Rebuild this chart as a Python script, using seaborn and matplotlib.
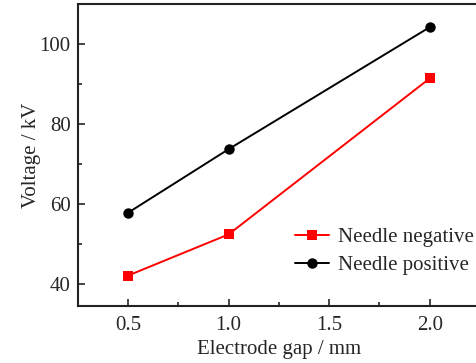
import matplotlib
matplotlib.use("Agg")
import matplotlib.pyplot as plt
from matplotlib.ticker import MultipleLocator
import seaborn as sns
import pandas as pd

gap = [0.5, 1.0, 2.0]
needle_negative = [42.1, 52.4, 91.4]
needle_positive = [57.8, 73.7, 104.2]

sns.set_theme(style="ticks")
plt.rcParams['font.family'] = ['Liberation Serif', 'DejaVu Serif']
plt.rcParams['mathtext.fontset'] = 'stix'

df = pd.concat([
    pd.DataFrame({"gap": gap, "v": needle_negative, "s": "Needle negative"}),
    pd.DataFrame({"gap": gap, "v": needle_positive, "s": "Needle positive"}),
])

fig = plt.figure(figsize=(4.76, 3.63), dpi=100)
ax = fig.add_axes([77.7/476, 57/363, (480-77.7)/476, 302/363])

sns.lineplot(data=df, x="gap", y="v", hue="s", style="s",
             markers={"Needle negative": "s", "Needle positive": "o"},
             dashes=False, palette={"Needle negative": "#ff0000", "Needle positive": "#000000"},
             markersize=7.5, linewidth=1.4, markeredgewidth=0, ax=ax)

ax.set_xlim(0.25, 2.25)
ax.set_ylim(34.5, 110)
ax.xaxis.set_major_locator(MultipleLocator(0.5))
ax.xaxis.set_minor_locator(MultipleLocator(0.25))
ax.yaxis.set_major_locator(MultipleLocator(20))
ax.yaxis.set_minor_locator(MultipleLocator(10))
ax.tick_params(which="both", direction="in", labelsize=15, width=1.2, top=False, right=False)
ax.tick_params(which="major", length=5)
ax.tick_params(which="minor", length=3)
ax.tick_params(axis="x", pad=7)
ax.tick_params(axis="y", pad=5)
for sp in ax.spines.values():
    sp.set_linewidth(1.5)
    sp.set_color("#222222")
ax.set_xlabel("Electrode gap / mm", fontsize=15, labelpad=4)
ax.set_ylabel("Voltage / kV", fontsize=15, labelpad=-1)

leg = ax.legend(loc="upper left", bbox_to_anchor=(0.52, 0.288), frameon=False,
                fontsize=15, handlelength=1.6, handletextpad=0.45, labelspacing=0.42,
                borderaxespad=0)
fig.savefig("out.png", dpi=100)
